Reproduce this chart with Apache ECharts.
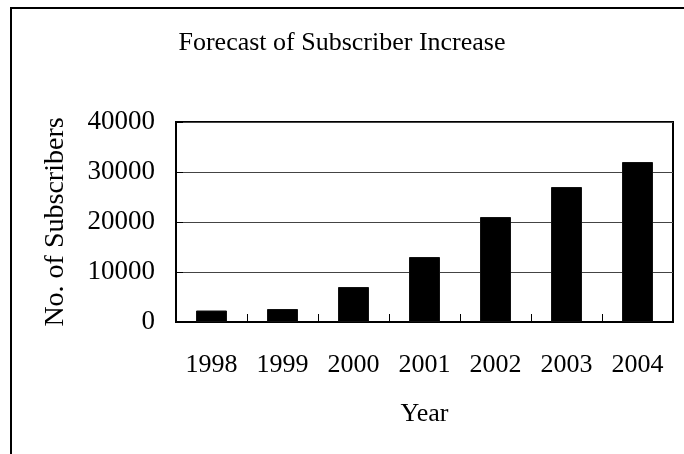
<!DOCTYPE html>
<html>
<head>
<meta charset="utf-8">
<title>Forecast of Subscriber Increase</title>
<script src="https://cdn.jsdelivr.net/npm/echarts@6/dist/echarts.min.js"></script>
<style>
  html, body { margin: 0; padding: 0; background: #fff; }
  #chart { width: 684px; height: 454px; }
</style>
</head>
<body>
<div id="chart"></div>
<script>
// Subscriber forecast by year
const years = ['1998', '1999', '2000', '2001', '2002', '2003', '2004'];
const subscribers = [2300, 2600, 7000, 13000, 21000, 27000, 32000];
const yTicks = { min: 0, max: 40000, step: 10000 };

const serif = 'Liberation Serif';
const chart = echarts.init(document.getElementById('chart'), null, { renderer: 'canvas' });

chart.setOption({
  animation: false,
  backgroundColor: '#fff',
  title: {
    text: 'Forecast of Subscriber Increase',
    left: 'center',
    top: 25,
    textStyle: { fontFamily: serif, fontSize: 26, fontWeight: 'normal', color: '#000' }
  },
  graphic: [{
    type: 'rect',
    shape: { x: 11, y: 8, width: 720, height: 520 },
    style: { fill: 'none', stroke: '#000', lineWidth: 2 },
    silent: true
  }],
  grid: {
    left: 176, right: 11, top: 122, bottom: 132,
    containLabel: false,
    show: true,
    borderColor: '#000',
    borderWidth: 2,
    backgroundColor: 'transparent'
  },
  xAxis: {
    type: 'category',
    data: years,
    name: 'Year',
    nameLocation: 'middle',
    nameGap: 79,
    nameTextStyle: { fontFamily: serif, fontSize: 26, color: '#000' },
    axisLine: { show: true, lineStyle: { color: '#000', width: 2 } },
    axisTick: { show: true, inside: true, length: 8, interval: 0, lineStyle: { color: '#000', width: 1 } },
    axisLabel: { margin: 30, interval: 0, fontFamily: serif, fontSize: 26, color: '#000' },
    splitLine: { show: false }
  },
  yAxis: {
    type: 'value',
    min: yTicks.min,
    max: yTicks.max,
    interval: yTicks.step,
    name: 'No. of Subscribers',
    nameLocation: 'middle',
    nameGap: 106,
    nameTextStyle: { fontFamily: serif, fontSize: 28, color: '#000' },
    axisLine: { show: true, lineStyle: { color: '#000', width: 2 } },
    axisTick: { show: true, inside: true, length: 7, lineStyle: { color: '#000', width: 1 } },
    axisLabel: {
      margin: 21,
      fontFamily: serif,
      fontSize: 27,
      color: '#000',
      formatter: v => String(v)
    },
    splitLine: { show: true, lineStyle: { color: '#444', width: 1 } }
  },
  series: [{
    type: 'bar',
    data: subscribers,
    barWidth: 31,
    itemStyle: { color: '#000', borderColor: '#111', borderWidth: 1 }
  }]
});
</script>
</body>
</html>
